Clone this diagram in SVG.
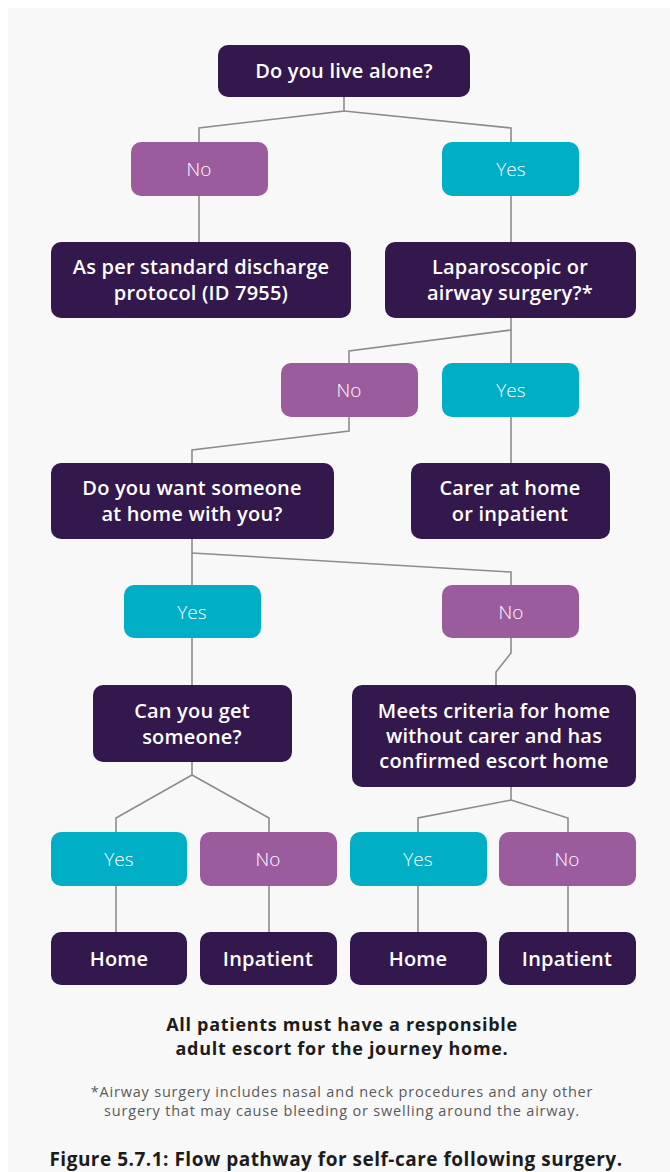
<svg xmlns="http://www.w3.org/2000/svg" width="670" height="1172" viewBox="0 0 670 1172">
<style>
.q{fill:#32184d}
.no{fill:#9b5c9e}
.yes{fill:#00aec6}
.t{font-family:"Open Sans",Lato,sans-serif;font-weight:600;font-size:20px;letter-spacing:0.2px;fill:#ffffff;text-anchor:middle}
.a{font-family:"Open Sans",Lato,sans-serif;font-weight:300;font-size:19px;fill:#ffffff;text-anchor:middle}
.c{fill:none;stroke:#8c8c8c;stroke-width:1.6}
</style>
<rect x="8" y="8" width="662" height="1164" fill="#f8f8f8"/>
<g id="connectors" class="c">
<polyline points="344,97 344,111 199,128 199,142"/>
<polyline points="344,111 511,128 511,142"/>
<line x1="199" y1="196" x2="199" y2="242"/>
<line x1="511" y1="196" x2="511" y2="242"/>
<polyline points="511,318 511,330 349,351 349,363"/>
<line x1="511" y1="330" x2="511" y2="363"/>
<polyline points="349,417 349,431 192,450 192,463"/>
<line x1="511" y1="417" x2="511" y2="463"/>
<line x1="192" y1="539" x2="192" y2="585"/>
<polyline points="192,553 511,572 511,585"/>
<polyline points="511,638 511,653 496,672 496,685"/>
<line x1="192" y1="638" x2="192" y2="685"/>
<polyline points="192,762 192,775 116,818 116,832"/>
<polyline points="192,775 269,818 269,832"/>
<polyline points="511,787 511,800 418,818 418,832"/>
<polyline points="511,800 568,818 568,832"/>
<line x1="116" y1="886" x2="116" y2="932"/>
<line x1="269" y1="886" x2="269" y2="932"/>
<line x1="418" y1="886" x2="418" y2="932"/>
<line x1="568" y1="886" x2="568" y2="932"/>
</g>
<g id="n1"><rect class="q" x="218" y="45" width="252" height="52" rx="10"/><text class="t" x="344" y="78">Do you live alone?</text></g>
<g id="n2"><rect class="no" x="131" y="142" width="137" height="54" rx="10"/><text class="a" x="199" y="176">No</text></g>
<g id="n3"><rect class="yes" x="442" y="142" width="137" height="54" rx="10"/><text class="a" x="511" y="176">Yes</text></g>
<g id="n4"><rect class="q" x="51" y="242" width="300" height="76" rx="10"/><text class="t" x="201" y="274">As per standard discharge</text><text class="t" x="201" y="300">protocol (ID 7955)</text></g>
<g id="n5"><rect class="q" x="385" y="242" width="251" height="76" rx="10"/><text class="t" x="510" y="274">Laparoscopic or</text><text class="t" x="510" y="300">airway surgery?*</text></g>
<g id="n6"><rect class="no" x="281" y="363" width="137" height="54" rx="10"/><text class="a" x="349" y="397">No</text></g>
<g id="n7"><rect class="yes" x="442" y="363" width="137" height="54" rx="10"/><text class="a" x="511" y="397">Yes</text></g>
<g id="n8"><rect class="q" x="51" y="463" width="283" height="76" rx="10"/><text class="t" x="192" y="495">Do you want someone</text><text class="t" x="192" y="521">at home with you?</text></g>
<g id="n9"><rect class="q" x="411" y="463" width="199" height="76" rx="10"/><text class="t" x="510" y="495">Carer at home</text><text class="t" x="510" y="521">or inpatient</text></g>
<g id="n10"><rect class="yes" x="124" y="585" width="137" height="53" rx="10"/><text class="a" x="192" y="619">Yes</text></g>
<g id="n11"><rect class="no" x="442" y="585" width="137" height="53" rx="10"/><text class="a" x="511" y="619">No</text></g>
<g id="n12"><rect class="q" x="93" y="685" width="199" height="77" rx="10"/><text class="t" x="192" y="718">Can you get</text><text class="t" x="192" y="744">someone?</text></g>
<g id="n13"><rect class="q" x="352" y="685" width="284" height="102" rx="10"/><text class="t" x="494" y="718">Meets criteria for home</text><text class="t" x="494" y="743">without carer and has</text><text class="t" x="494" y="768">confirmed escort home</text></g>
<g id="n14"><rect class="yes" x="51" y="832" width="136" height="54" rx="10"/><text class="a" x="119" y="866">Yes</text></g>
<g id="n15"><rect class="no" x="200" y="832" width="137" height="54" rx="10"/><text class="a" x="268" y="866">No</text></g>
<g id="n16"><rect class="yes" x="350" y="832" width="137" height="54" rx="10"/><text class="a" x="418" y="866">Yes</text></g>
<g id="n17"><rect class="no" x="499" y="832" width="137" height="54" rx="10"/><text class="a" x="567" y="866">No</text></g>
<g id="n18"><rect class="q" x="51" y="932" width="136" height="53" rx="10"/><text class="t" x="119" y="966">Home</text></g>
<g id="n19"><rect class="q" x="200" y="932" width="137" height="53" rx="10"/><text class="t" x="268" y="966">Inpatient</text></g>
<g id="n20"><rect class="q" x="350" y="932" width="137" height="53" rx="10"/><text class="t" x="418" y="966">Home</text></g>
<g id="n21"><rect class="q" x="499" y="932" width="137" height="53" rx="10"/><text class="t" x="567" y="966">Inpatient</text></g>
<g id="notes" font-family="'Open Sans',Lato,sans-serif" text-anchor="middle">
<text x="342" y="1031" font-size="18" font-weight="700" letter-spacing="0.7" fill="#1c1c1c">All patients must have a responsible</text>
<text x="342" y="1055" font-size="18" font-weight="700" letter-spacing="0.7" fill="#1c1c1c">adult escort for the journey home.</text>
<text x="342" y="1097" font-size="14.5" letter-spacing="0.8" fill="#5a5a5a">*Airway surgery includes nasal and neck procedures and any other</text>
<text x="342" y="1116" font-size="14.5" letter-spacing="0.8" fill="#5a5a5a">surgery that may cause bleeding or swelling around the airway.</text>
<text x="336" y="1166" font-size="19" font-weight="700" letter-spacing="0.5" fill="#1c1c1c">Figure 5.7.1: Flow pathway for self-care following surgery.</text>
</g>
</svg>
